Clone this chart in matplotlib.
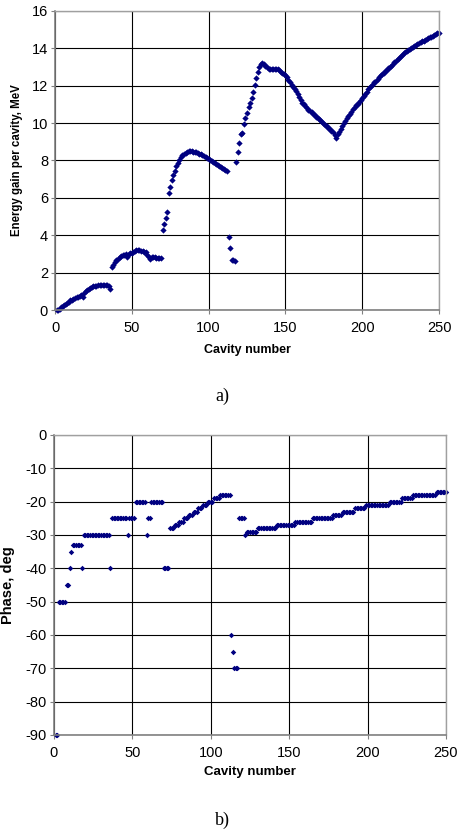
import numpy as np
import matplotlib
matplotlib.use("Agg")
import matplotlib.pyplot as plt

# energy gain per cavity, MeV (cavities 1..250)
energy = [
    0.0, 0.02, 0.08, 0.15, 0.22, 0.28, 0.33, 0.38, 0.45, 0.52,
    0.56, 0.6, 0.64, 0.68, 0.72, 0.76, 0.8, 0.72, 0.9, 1.0,
    1.08, 1.14, 1.2, 1.24, 1.27, 1.29, 1.31, 1.32, 1.33, 1.33,
    1.33, 1.33, 1.32, 1.32, 1.28, 1.1, 2.3, 2.42, 2.55, 2.65,
    2.74, 2.82, 2.88, 2.93, 2.95, 2.97, 2.85, 3.0, 3.03, 3.06,
    3.1, 3.15, 3.2, 3.21, 3.2, 3.18, 3.15, 3.13, 3.1, 2.95,
    2.85, 2.72, 2.82, 2.84, 2.83, 2.8, 2.79, 2.78, 2.76, 4.3,
    4.6, 4.9, 5.22, 6.28, 6.6, 6.95, 7.2, 7.45, 7.7, 7.88,
    8.05, 8.18, 8.27, 8.35, 8.42, 8.47, 8.5, 8.52, 8.5, 8.48,
    8.46, 8.43, 8.4, 8.37, 8.33, 8.29, 8.25, 8.2, 8.15, 8.1,
    8.05, 7.99, 7.93, 7.88, 7.82, 7.76, 7.71, 7.66, 7.61, 7.56,
    7.51, 7.45, 3.9, 3.3, 2.7, 2.65, 2.62, 7.94, 8.47, 8.92,
    9.42, 9.47, 9.95, 10.26, 10.52, 10.88, 11.06, 11.33, 11.68, 12.04,
    12.4, 12.75, 13.02, 13.15, 13.2, 13.15, 13.08, 12.98, 12.9, 12.87,
    12.9, 12.92, 12.92, 12.9, 12.88, 12.82, 12.75, 12.68, 12.62, 12.55,
    12.45, 12.32, 12.18, 12.05, 11.95, 11.85, 11.7, 11.55, 11.4, 11.25,
    11.1, 11.0, 10.9, 10.8, 10.72, 10.65, 10.58, 10.5, 10.42, 10.35,
    10.28, 10.2, 10.12, 10.05, 9.97, 9.9, 9.82, 9.75, 9.67, 9.58,
    9.5, 9.35, 9.2, 9.4, 9.55, 9.7, 9.85, 10.0, 10.1, 10.25,
    10.4, 10.5, 10.6, 10.75, 10.85, 10.97, 11.05, 11.15, 11.25, 11.35,
    11.45, 11.55, 11.65, 11.8, 11.92, 12.0, 12.1, 12.18, 12.27, 12.35,
    12.45, 12.55, 12.62, 12.7, 12.78, 12.86, 12.93, 13.0, 13.08, 13.17,
    13.25, 13.33, 13.42, 13.5, 13.58, 13.66, 13.74, 13.82, 13.88, 13.93,
    13.98, 14.03, 14.08, 14.13, 14.18, 14.23, 14.28, 14.33, 14.38, 14.42,
    14.46, 14.5, 14.55, 14.59, 14.63, 14.67, 14.71, 14.76, 14.8, 14.83,
]

# synchronous phase, deg (cavities 1..250)
phase = [
    -90, -90, -50, -50, -50, -50, -50, -45, -45, -40,
    -35, -33, -33, -33, -33, -33, -33, -40, -30, -30,
    -30, -30, -30, -30, -30, -30, -30, -30, -30, -30,
    -30, -30, -30, -30, -30, -40, -25, -25, -25, -25,
    -25, -25, -25, -25, -25, -25, -30, -25, -25, -25,
    -25, -20, -20, -20, -20, -20, -20, -20, -30, -25,
    -25, -20, -20, -20, -20, -20, -20, -20, -20, -40,
    -40, -40, -40, -28, -28, -28, -27, -27, -27, -26,
    -26, -26, -25, -25, -25, -24, -24, -24, -23, -23,
    -23, -22, -22, -22, -21, -21, -21, -20, -20, -20,
    -20, -19, -19, -19, -19, -18, -18, -18, -18, -18,
    -18, -18, -60, -65, -70, -70, -70, -25, -25, -25,
    -25, -30, -29, -29, -29, -29, -29, -29, -29, -28,
    -28, -28, -28, -28, -28, -28, -28, -28, -28, -28,
    -28, -27, -27, -27, -27, -27, -27, -27, -27, -27,
    -27, -27, -27, -26, -26, -26, -26, -26, -26, -26,
    -26, -26, -26, -26, -25, -25, -25, -25, -25, -25,
    -25, -25, -25, -25, -25, -25, -25, -24, -24, -24,
    -24, -24, -24, -23, -23, -23, -23, -23, -23, -23,
    -23, -22, -22, -22, -22, -22, -22, -22, -21, -21,
    -21, -21, -21, -21, -21, -21, -21, -21, -21, -21,
    -21, -21, -21, -20, -20, -20, -20, -20, -20, -20,
    -20, -19, -19, -19, -19, -19, -19, -19, -18, -18,
    -18, -18, -18, -18, -18, -18, -18, -18, -18, -18,
    -18, -18, -18, -17, -17, -17, -17, -17, -17, -17,
]

cavity = np.arange(1, len(energy) + 1)

x_ticks = [0, 50, 100, 150, 200, 250]
e_ticks = [0, 2, 4, 6, 8, 10, 12, 14, 16]
p_ticks = [0, -10, -20, -30, -40, -50, -60, -70, -80, -90]

plt.rcParams['font.family'] = ['Liberation Sans', 'DejaVu Sans']
plt.rcParams['axes.unicode_minus'] = False

fig = plt.figure(figsize=(4.58, 8.36), dpi=100)
W, H = 458.0, 836.0


def style_axes(ax):
    ax.grid(True, color='black', linewidth=0.8)
    ax.set_axisbelow(True)
    for side in ['top', 'right']:
        ax.spines[side].set_color('#a0a0a0')
        ax.spines[side].set_linewidth(1.0)
    for side in ['left', 'bottom']:
        ax.spines[side].set_color('#808080')
        ax.spines[side].set_linewidth(1.2)
    ax.tick_params(direction='out', length=3, width=0.8, color='#808080',
                   labelsize=10.5, pad=2)
    ax.tick_params(axis='x', pad=5)


# a) energy gain
ax1 = fig.add_axes([55 / W, 1 - 310 / H, 384 / W, 299 / H])
ax1.plot(cavity, energy, linestyle='none', marker='D', markersize=3.2,
         color='#000080', markeredgewidth=0, clip_on=False)
ax1.set_xlim(0, 250)
ax1.set_ylim(0, 16)
ax1.set_xticks(x_ticks)
ax1.set_yticks(e_ticks)
style_axes(ax1)
ax1.set_xlabel('Cavity number', fontsize=9, fontweight='bold', va='center')
ax1.xaxis.set_label_coords(0.5, (310 - 350) / 299)
ax1.set_ylabel('Energy gain per cavity, MeV', fontsize=8.3, fontweight='bold', va='center')
ax1.yaxis.set_label_coords((17 - 55) / 384, 0.5)
fig.text(222 / W, 1 - 396 / H, 'a)', fontsize=13, family='Liberation Serif',
         ha='center', va='center')

# b) phase
ax2 = fig.add_axes([54 / W, 1 - 735 / H, 392 / W, 300 / H])
ax2.plot(cavity, phase, linestyle='none', marker='D', markersize=2.8,
         color='#000080', markeredgewidth=0, clip_on=False)
ax2.set_xlim(0, 250)
ax2.set_ylim(-90, 0)
ax2.set_xticks(x_ticks)
ax2.set_yticks(p_ticks)
style_axes(ax2)
ax2.set_xlabel('Cavity number', fontsize=9.5, fontweight='bold', va='center')
ax2.xaxis.set_label_coords(0.5, (735 - 772) / 300)
ax2.set_ylabel('Phase, deg', fontsize=10.5, fontweight='bold', va='center')
ax2.yaxis.set_label_coords((8 - 54) / 392, 0.5)
fig.text(222 / W, 1 - 820 / H, 'b)', fontsize=13, family='Liberation Serif',
         ha='center', va='center')

plt.savefig('out.png', dpi=100)
